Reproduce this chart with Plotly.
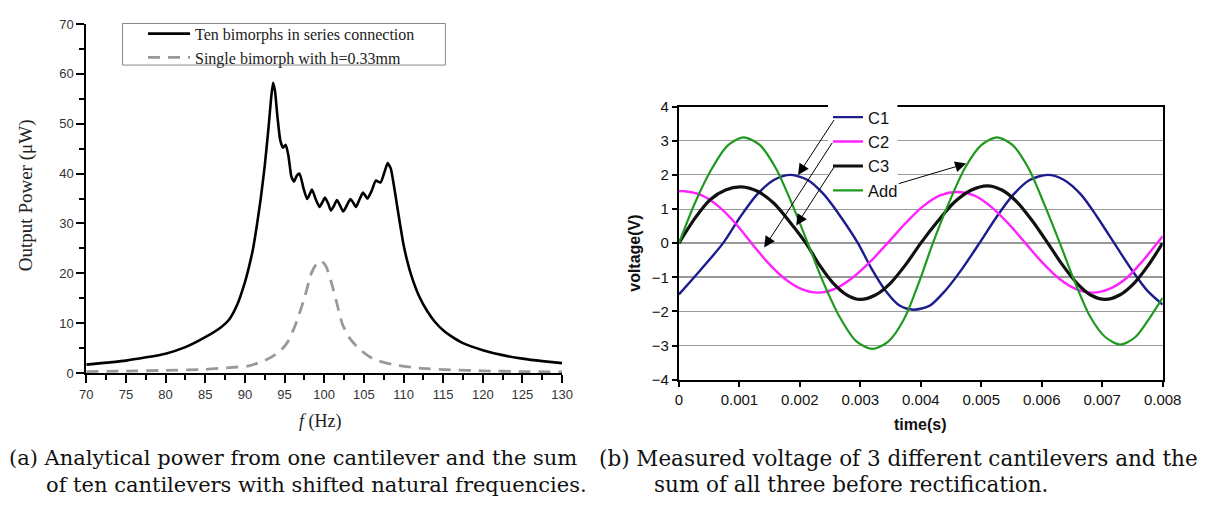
import plotly.graph_objects as go

W, H = 1211, 508

# ---------------- Data: panel (a) ----------------
f_ten = [70, 75, 80, 82.5, 85, 87, 88, 89, 90, 90.5, 91, 91.5, 92, 92.5, 93, 93.3, 93.55, 93.8, 94.1, 94.45,
         94.8, 95.15, 95.5, 95.85, 96.2, 96.55, 96.9, 97.4, 97.85, 98.15, 98.46, 98.9, 99.4, 99.75, 100.1,
         100.5, 100.85, 101.25, 101.6, 102.0, 102.4, 102.85, 103.3, 103.65, 104.0, 104.45, 104.9, 105.45,
         106.0, 106.5, 107.1, 107.6, 108.0, 108.4, 108.8, 109.2, 109.6, 110, 110.5, 111, 112, 113, 114, 115,
         116, 117.5, 120, 122.5, 125, 127.5, 130]
p_ten = [1.7, 2.5, 3.9, 5.2, 7.2, 9.2, 10.7, 13.6, 18.2, 21.2, 24.7, 29.5, 35, 41.5, 49.5, 55, 58.2, 56.5, 51.5, 46.8,
         45.2, 45.8, 43.5, 39.5, 38.4, 39.6, 40, 37, 34.9, 35.8, 36.8, 35, 33.3, 34.2, 35.2,
         34.0, 32.6, 33.6, 34.7, 33.6, 32.4, 33.6, 34.9, 34.2, 33.3, 34.8, 36.2, 35.0,
         36.6, 38.6, 38.2, 40.3, 42.1, 41.0, 37.5, 33.5, 29.5, 25.8, 22.3, 19.5, 15.3, 12.4, 10.2, 8.6,
         7.4, 6.0, 4.6, 3.6, 2.9, 2.4, 2.0]

f_single = [70, 75, 80, 85, 88, 90.3, 92, 93.1, 94.5, 95.5, 96.4, 97.5, 98.4, 99.0, 99.6, 100.2, 100.9,
            101.6, 102.3, 103.3, 104.4, 105.5, 106.5, 108.7, 112, 116, 120, 125, 130]
p_single = [0.3, 0.4, 0.55, 0.75, 1.1, 1.4, 2.2, 3.0, 4.5, 6.5, 9.8, 15, 20.1, 21.8, 22.5, 21.5, 18.2,
            14, 9.8, 6.8, 4.9, 3.5, 2.65, 1.7, 1.0, 0.65, 0.45, 0.3, 0.25]

x_ticks_a = [70, 75, 80, 85, 90, 95, 100, 105, 110, 115, 120, 125, 130]
y_ticks_a = [0, 10, 20, 30, 40, 50, 60, 70]

# ---------------- Data: panel (b) ----------------
t_c1 = [0, 0.00035, 0.00073, 0.00101, 0.00129, 0.00157, 0.00185, 0.00213, 0.0024, 0.00268, 0.00296,
        0.00319, 0.00342, 0.00365, 0.00388, 0.00415, 0.0044, 0.00468, 0.00497, 0.00525, 0.00553, 0.0058,
        0.0061, 0.00637, 0.00665, 0.00692, 0.0072, 0.00748, 0.00775, 0.008]
v_c1 = [-1.5, -0.8, 0, 0.76, 1.42, 1.85, 2.0, 1.85, 1.42, 0.76, 0,
        -0.76, -1.4, -1.83, -1.95, -1.83, -1.4, -0.76, 0, 0.76, 1.42, 1.85,
        2.0, 1.85, 1.42, 0.76, 0, -0.76, -1.4, -1.8]

t_c2 = [0, 0.0001, 0.00038, 0.00066, 0.00094, 0.0012, 0.00146, 0.00174, 0.00202, 0.0023, 0.00258, 0.00286,
        0.00316, 0.00345, 0.00374, 0.00403, 0.00432, 0.0046, 0.00488, 0.00516, 0.00545, 0.00573, 0.006,
        0.00628, 0.00656, 0.00685, 0.00712, 0.0074, 0.00768, 0.008]
v_c2 = [1.52, 1.52, 1.4, 1.07, 0.57, 0, -0.55, -1.03, -1.34, -1.45, -1.34, -1.03,
        -0.55, 0, 0.57, 1.07, 1.4, 1.5, 1.4, 1.07, 0.57, 0, -0.55,
        -1.03, -1.34, -1.45, -1.34, -1.03, -0.5, 0.2]

t_c3 = [0, 0.00026, 0.00052, 0.00077, 0.00103, 0.0013, 0.00157, 0.00183, 0.0021, 0.00232, 0.00255, 0.00278,
        0.003, 0.00325, 0.0035, 0.00375, 0.004, 0.00428, 0.00455, 0.00483, 0.0051, 0.00535, 0.0056, 0.00585,
        0.0061, 0.00634, 0.00658, 0.00681, 0.00705, 0.00729, 0.00753, 0.00777, 0.008]
v_c3 = [0, 0.72, 1.28, 1.56, 1.65, 1.52, 1.17, 0.63, 0, -0.63, -1.17, -1.52,
        -1.65, -1.52, -1.17, -0.63, 0, 0.64, 1.19, 1.55, 1.68, 1.55, 1.19, 0.64,
        0, -0.63, -1.17, -1.52, -1.65, -1.52, -1.17, -0.63, 0]

t_add = [0, 0.00027, 0.00055, 0.0008, 0.00107, 0.00134, 0.0016, 0.00187, 0.00213, 0.0024, 0.00267, 0.00293,
         0.0032, 0.00347, 0.00373, 0.00397, 0.0042, 0.00447, 0.00473, 0.005, 0.00526, 0.00552, 0.00578,
         0.00604, 0.0063, 0.00655, 0.0068, 0.00705, 0.0073, 0.00755, 0.0078, 0.008]
v_add = [0, 1.2, 2.2, 2.85, 3.1, 2.87, 2.2, 1.15, 0, -1.2, -2.2, -2.87,
         -3.1, -2.87, -2.2, -1.15, 0, 1.2, 2.2, 2.87, 3.1, 2.87, 2.2,
         1.15, 0, -1.15, -2.15, -2.75, -2.97, -2.75, -2.15, -1.6]

x_ticks_b = [0, 0.001, 0.002, 0.003, 0.004, 0.005, 0.006, 0.007, 0.008]
x_ticktext_b = ["0", "0.001", "0.002", "0.003", "0.004", "0.005", "0.006", "0.007", "0.008"]
y_ticks_b = [-4, -3, -2, -1, 0, 1, 2, 3, 4]

# leader arrows (tail -> head) in data coordinates of panel (b)
arrow_tail_t = [0.00258, 0.00255, 0.00258, 0.00361]
arrow_tail_v = [3.65, 2.98, 2.27, 1.73]
arrow_head_t = [0.00197, 0.00141, 0.00194, 0.00475]
arrow_head_v = [2.0, -0.13, 0.52, 2.33]


def px(x):
    return x / W


def py(y):
    return 1 - y / H


SERIF = "Liberation Serif"
SANS = "Liberation Sans, Arial"

fig = go.Figure()

fig.add_trace(go.Scatter(x=f_ten, y=p_ten, mode="lines", name="Ten bimorphs in series connection",
                         line=dict(color="#000000", width=2.6, shape="spline", smoothing=0.5),
                         xaxis="x", yaxis="y", legend="legend"))
fig.add_trace(go.Scatter(x=f_single, y=p_single, mode="lines", name="Single bimorph with h=0.33mm",
                         line=dict(color="#999999", width=2.8, dash="12px,8px", shape="spline", smoothing=0.6),
                         xaxis="x", yaxis="y", legend="legend"))

cols = {"C1": "#1c1c8e", "C2": "#ff22ff", "C3": "#111111", "Add": "#1f9a1f"}
widths = {"C1": 2.4, "C2": 2.4, "C3": 3.2, "Add": 2.2}
for name, tt, vv in [("C1", t_c1, v_c1), ("C2", t_c2, v_c2), ("C3", t_c3, v_c3), ("Add", t_add, v_add)]:
    fig.add_trace(go.Scatter(x=tt, y=vv, mode="lines", name=name,
                             line=dict(color=cols[name], width=widths[name], shape="spline", smoothing=0.8),
                             xaxis="x2", yaxis="y2", legend="legend2"))

axis_common = dict(showline=True, linecolor="black", zeroline=False, ticks="outside", tickcolor="black")

fig.update_layout(
    width=W, height=H,
    margin=dict(l=0, r=0, t=0, b=0),
    paper_bgcolor="white", plot_bgcolor="white",
    xaxis=dict(domain=[px(81), px(567.3)], range=[70, 130], tickvals=x_ticks_a, ticklen=8, tickwidth=1.5,
               linewidth=2, showgrid=False, minor=dict(dtick=2.5, ticklen=5, tickwidth=1.5, ticks="outside", tickcolor="black"),
               tickfont=dict(family=SANS, size=13, color="#333"), anchor="y",
               **axis_common),
    yaxis=dict(domain=[py(376.7), py(15.5)], range=[0, 70], tickvals=y_ticks_a, ticklen=8, tickwidth=1.5,
               linewidth=2, showgrid=False, minor=dict(dtick=5, ticklen=5, tickwidth=1.5, ticks="outside", tickcolor="black"),
               tickfont=dict(family=SANS, size=13, color="#333"), anchor="x",
               **axis_common),
    xaxis2=dict(domain=[px(686.7), px(1181)], range=[0, 0.008], tickvals=x_ticks_b, ticktext=x_ticktext_b,
                ticklen=5, tickwidth=1.5, linewidth=2, showgrid=False, mirror=True,
                tickfont=dict(family=SANS, size=15, color="#111"), anchor="y2",
                **axis_common),
    yaxis2=dict(domain=[py(383.5), py(101)], range=[-4, 4], tickvals=y_ticks_b, ticklen=5, tickwidth=1.5,
                linewidth=2, showgrid=True, gridcolor="#9a9a9a", gridwidth=1, mirror=True,
                tickfont=dict(family=SANS, size=15, color="#111"), anchor="x2",
                **axis_common),
    legend=dict(x=px(139), y=py(8), xanchor="left", yanchor="top", bgcolor="rgba(0,0,0,0)",
                borderwidth=0, itemwidth=42, font=dict(family=SERIF, size=16, color="#222")),
    legend2=dict(x=px(839), y=py(94), xanchor="left", yanchor="top", bgcolor="rgba(0,0,0,0)",
                 borderwidth=0, font=dict(family=SANS, size=16.5, color="#111")),
    showlegend=True,
)

# legend frame (a) and white mask behind legend (b)
fig.add_shape(type="rect", xref="paper", yref="paper", x0=px(118), x1=px(448), y0=py(58), y1=py(15),
              line=dict(color="#888", width=1), fillcolor="white", layer="above")
fig.add_shape(type="rect", xref="paper", yref="paper", x0=px(839), x1=px(910), y0=py(194), y1=py(97),
              line=dict(width=0), fillcolor="white", layer="above")
# darker reference lines at 0 and -1
for yv in [0, -1]:
    fig.add_shape(type="line", xref="x2 domain", yref="y2", x0=0, x1=1, y0=yv, y1=yv,
                  line=dict(color="#333", width=1.3), layer="below")

for i in range(4):
    fig.add_annotation(x=arrow_head_t[i], y=arrow_head_v[i], ax=arrow_tail_t[i], ay=arrow_tail_v[i],
                       xref="x2", yref="y2", axref="x2", ayref="y2", text="", showarrow=True,
                       arrowhead=2, arrowsize=2.2, arrowwidth=1, arrowcolor="black")

# axis titles
mid = dict(xref="paper", yref="paper", xanchor="center", yanchor="middle", showarrow=False)
fig.add_annotation(x=px(19), y=py(193), text="Output Power (μW)", textangle=-90,
                   font=dict(family=SERIF, size=19, color="#222"), **mid)
fig.add_annotation(x=px(320), y=py(427), text="<i>f</i> (Hz)",
                   font=dict(family=SERIF, size=18, color="#222"), **mid)
fig.add_annotation(x=px(641), y=py(253), text="<b>voltage(V)</b>", textangle=-90,
                   font=dict(family=SANS, size=16, color="#111"), **mid)
fig.add_annotation(x=px(933), y=py(430), text="<b>time(s)</b>",
                   font=dict(family=SANS, size=16, color="#111"), **mid)

# captions
cap_a = dict(family="DejaVu Serif", size=21, color="#111")
cap_b = dict(family="DejaVu Serif", size=21.5, color="#111")
capa = dict(xref="paper", yref="paper", xanchor="left", yanchor="middle", showarrow=False)
fig.add_annotation(x=px(0), y=py(465), text="(a) Analytical power from one cantilever and the sum", font=cap_a, **capa)
fig.add_annotation(x=px(38), y=py(492), text="of ten cantilevers with shifted natural frequencies.", font=cap_a, **capa)
fig.add_annotation(x=px(603), y=py(465), text="(b) Measured voltage of 3 different cantilevers and the", font=cap_b, **capa)
fig.add_annotation(x=px(659), y=py(492), text="sum of all three before rectification.", font=cap_b, **capa)

fig.write_html("out.html", config={"displayModeBar": False},
               post_script="document.body.style.margin='0px';document.body.style.overflow='hidden';")
